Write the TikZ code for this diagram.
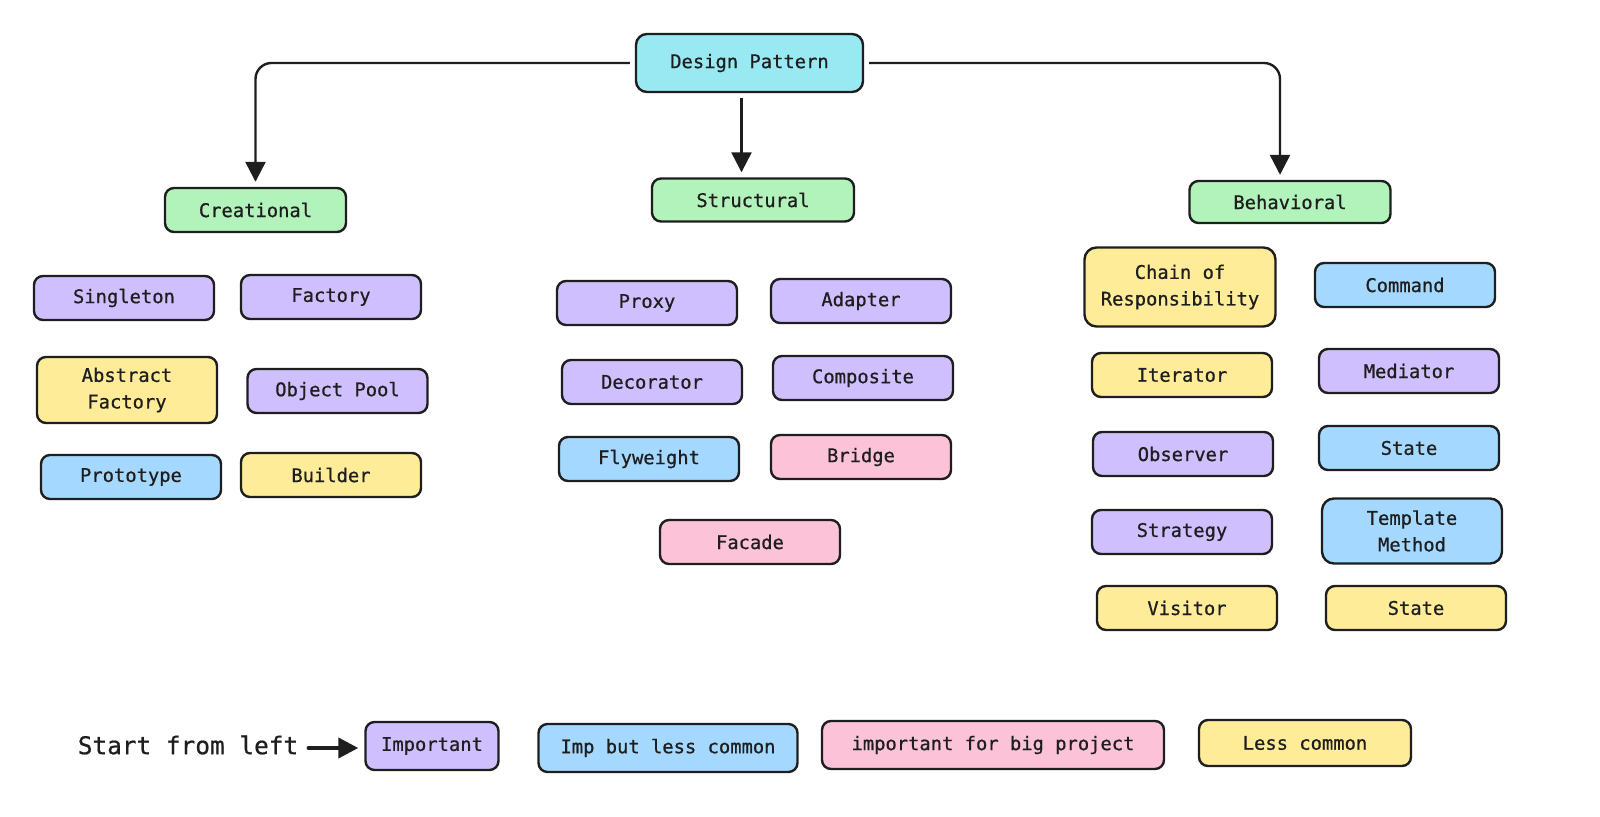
\documentclass[tikz,border=0pt]{standalone}
\usepackage{fontspec}
\usepackage{tikz}
\usetikzlibrary{arrows.meta}

\newfontfamily\patmono{DejaVu Sans Mono}[FakeBold=0.7]
\newcommand{\boxfont}{\patmono\fontsize{9.4}{13.3}\selectfont}

\definecolor{ink}{HTML}{1E1E1E}
\definecolor{impcol}{HTML}{D0BFFF}
\definecolor{commoncol}{HTML}{A5D8FF}
\definecolor{bigcol}{HTML}{FCC2D7}
\definecolor{rarecol}{HTML}{FFEC99}
\definecolor{catcol}{HTML}{B2F2BB}
\definecolor{rootcol}{HTML}{99E9F2}

\tikzset{
	box/.style={draw=ink, line width=1.2pt, rounded corners=4.5pt, inner sep=0pt,
		minimum width=90pt, minimum height=22pt, align=center, text=ink, font=\boxfont},
	impbox/.style={box, fill=impcol},
	commonbox/.style={box, fill=commoncol},
	bigbox/.style={box, fill=bigcol},
	rarebox/.style={box, fill=rarecol},
	catbox/.style={box, fill=catcol},
	rootbox/.style={box, fill=rootcol, rounded corners=5.5pt},
	link/.style={draw=ink, line width=1.2pt, rounded corners=8pt,
		-{Triangle[length=10pt,width=10pt]}, shorten >=2.5pt, shorten <=2.5pt}
}

\begin{document}
\begin{tikzpicture}[x=0.5pt,y=-0.5pt]
	\useasboundingbox (0,0) rectangle (1600,817);

	% top level
	\node[rootbox, minimum width=113.5pt, minimum height=29pt] (dp) at (749.5,63) {Design Pattern};

	\node[catbox, minimum width=90.5pt] (cre) at (255.5,210) {Creational};
	\node[catbox, minimum width=101pt, minimum height=21.5pt] (str) at (753,200) {Structural};
	\node[catbox, minimum width=100.5pt, minimum height=21pt] (beh) at (1290,202) {Behavioral};

	\draw[link] (dp.west) -| (cre.north);
	\draw[link] ([xshift=-4pt]dp.south) -- ([xshift=-4pt]dp.south |- str.north);
	\draw[link] (dp.east) -| ([xshift=-5pt]beh.north);

	% creational
	\node[impbox] (single) at (124,298) {Singleton};
	\node[impbox] (factory) at (331,297) {Factory};
	\node[rarebox, minimum height=33pt] (absfac) at (127,390) {Abstract\\Factory};
	\node[impbox] (pool) at (337.5,391) {Object Pool};
	\node[commonbox] (proto) at (131,477) {Prototype};
	\node[rarebox] (builder) at (331,475) {Builder};

	% structural
	\node[impbox] (proxy) at (647,303) {Proxy};
	\node[impbox] (adapter) at (861,301) {Adapter};
	\node[impbox] (decor) at (652,382) {Decorator};
	\node[impbox] (compo) at (863,378) {Composite};
	\node[commonbox] (fly) at (649,459) {Flyweight};
	\node[bigbox] (bridge) at (861,457) {Bridge};
	\node[bigbox] (facade) at (750,542) {Facade};

	% behavioral
	\node[rarebox, minimum width=95.5pt, minimum height=39.5pt, rounded corners=6pt] (chain) at (1180,287) {Chain of\\Responsibility};
	\node[commonbox] (command) at (1405,285) {Command};
	\node[rarebox] (iter) at (1182,375) {Iterator};
	\node[impbox] (medi) at (1409,371) {Mediator};
	\node[impbox] (obs) at (1183,454) {Observer};
	\node[commonbox] (state) at (1409,448) {State};
	\node[impbox] (strat) at (1182,532) {Strategy};
	\node[commonbox, minimum height=32.5pt, rounded corners=6pt] (templ) at (1412,531) {Template\\Method};
	\node[rarebox] (visit) at (1187,608) {Visitor};
	\node[rarebox] (state2) at (1416,608) {State};

	% legend
	\node[text=ink, font=\patmono\fontsize{12.2}{14}\selectfont, inner sep=0pt] (start) at (188,745) {Start from left};
	\node[impbox, minimum width=66.5pt, minimum height=24pt] (limp) at (432,746) {Important};
	\node[commonbox, minimum width=129.5pt, minimum height=24pt] (lcommon) at (668,748) {Imp but less common};
	\node[bigbox, minimum width=171pt, minimum height=24pt] (lbig) at (993,745) {important for big project};
	\node[rarebox, minimum width=106pt, minimum height=23pt] (lrare) at (1305,743) {Less common};

	\draw[draw=ink, line width=2pt, line cap=round, -{Triangle[length=10pt,width=10pt]},
		shorten <=5pt, shorten >=3pt] ([yshift=-1.5pt]start.east) -- ([yshift=-1pt]limp.west);
\end{tikzpicture}
\end{document}
